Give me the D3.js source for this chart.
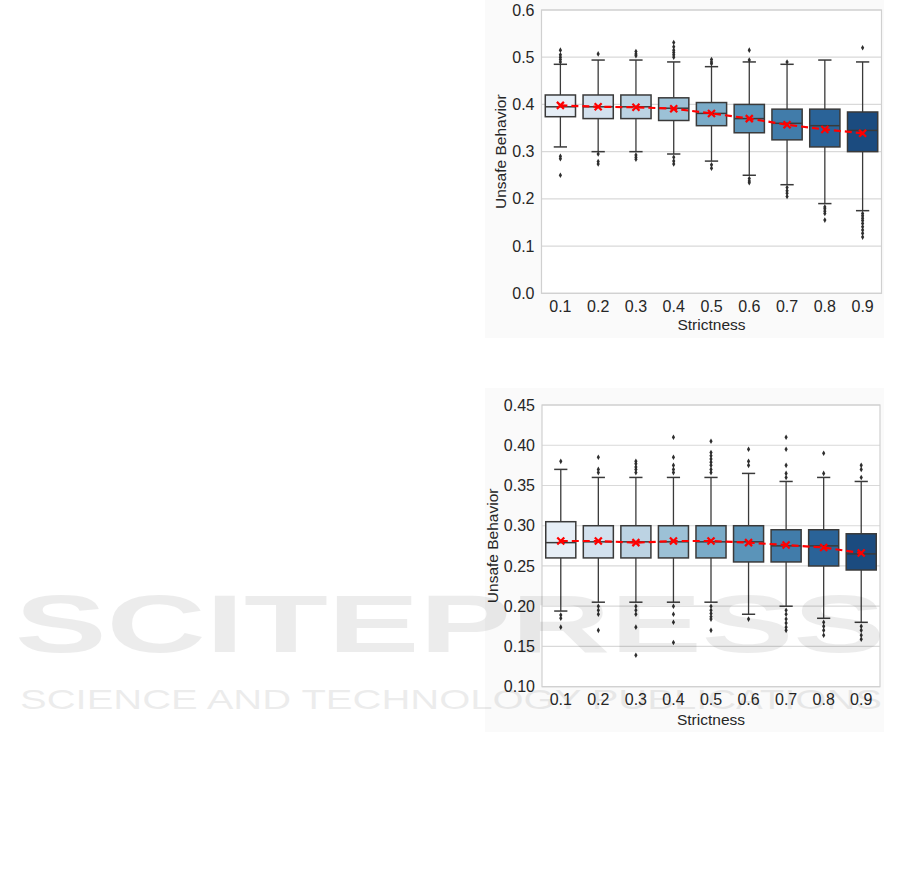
<!DOCTYPE html>
<html>
<head>
<meta charset="utf-8">
<script src="https://cdn.jsdelivr.net/npm/d3@7/dist/d3.min.js"></script>
<style>
  html, body { margin: 0; padding: 0; background: #ffffff; }
  svg { display: block; }
  text { font-family: "Liberation Sans", Arial, sans-serif; }
</style>
</head>
<body>
<svg id="chart" width="901" height="883"></svg>
<script>
// ---------- data ----------
const categories = ["0.1","0.2","0.3","0.4","0.5","0.6","0.7","0.8","0.9"];

// Panel 1 (top)
const topQ1          = [0.374,0.370,0.370,0.366,0.355,0.340,0.325,0.310,0.300];
const topMedian      = [0.395,0.395,0.395,0.392,0.381,0.370,0.360,0.355,0.345];
const topQ3          = [0.420,0.420,0.420,0.414,0.404,0.400,0.390,0.390,0.384];
const topWhiskerLow  = [0.310,0.300,0.300,0.295,0.280,0.250,0.230,0.190,0.175];
const topWhiskerHigh = [0.485,0.494,0.494,0.490,0.480,0.490,0.485,0.494,0.490];
const topMean        = [0.398,0.395,0.394,0.391,0.381,0.370,0.357,0.347,0.339];
const topOutliers = [
  [0.515,0.505,0.500,0.495,0.490,0.290,0.285,0.250],
  [0.507,0.295,0.279,0.274],
  [0.512,0.507,0.503,0.293,0.288,0.284],
  [0.531,0.522,0.515,0.510,0.505,0.500,0.288,0.280,0.274],
  [0.495,0.490,0.486,0.272,0.265],
  [0.515,0.494,0.243,0.238,0.234],
  [0.490,0.224,0.217,0.212,0.205],
  [0.183,0.179,0.174,0.169,0.155],
  [0.520,0.169,0.164,0.159,0.154,0.148,0.141,0.134,0.127,0.119]
];
const topTicks = [0.0,0.1,0.2,0.3,0.4,0.5,0.6];

// Panel 2 (bottom)
const botQ1          = [0.260,0.260,0.260,0.260,0.260,0.255,0.255,0.250,0.245];
const botMedian      = [0.279,0.280,0.280,0.280,0.280,0.280,0.275,0.275,0.265];
const botQ3          = [0.305,0.300,0.300,0.300,0.300,0.300,0.295,0.295,0.290];
const botWhiskerLow  = [0.194,0.205,0.205,0.205,0.205,0.190,0.200,0.185,0.180];
const botWhiskerHigh = [0.370,0.360,0.360,0.360,0.360,0.365,0.355,0.360,0.355];
const botMean        = [0.281,0.281,0.279,0.281,0.281,0.279,0.276,0.273,0.266];
const botOutliers = [
  [0.380,0.189,0.185,0.174],
  [0.385,0.370,0.366,0.200,0.195,0.190,0.170],
  [0.380,0.377,0.373,0.370,0.366,0.200,0.195,0.190,0.174,0.139],
  [0.410,0.385,0.375,0.370,0.366,0.200,0.190,0.180,0.155],
  [0.405,0.391,0.387,0.383,0.379,0.375,0.370,0.366,0.200,0.195,0.191,0.187,0.184,0.170],
  [0.395,0.380,0.375,0.184],
  [0.410,0.395,0.375,0.365,0.360,0.195,0.190,0.184,0.179,0.174,0.170],
  [0.390,0.365,0.180,0.175,0.170,0.164],
  [0.375,0.370,0.360,0.175,0.170,0.164,0.159]
];
const botTicks = [0.10,0.15,0.20,0.25,0.30,0.35,0.40,0.45];

const xTitle = "Strictness";
const yTitle = "Unsafe Behavior";

// ---------- drawing ----------
const svg = d3.select("#chart");
const textColor = "#262626";
const edgeColor = "#3a3a3a";

// seaborn-like Blues palette (desaturated)
const palette = categories.map((c, i) => {
  const col = d3.hsl(d3.interpolateRgbBasis(["#f7fbff","#deebf7","#c6dbef","#9ecae1","#6baed6","#4292c6","#2171b5","#08519c","#08306b"])((i + 1) / 10));
  col.s *= 0.75;
  return col.formatHex();
});

function drawPanel(cfg) {
  const g = svg.append("g");
  g.append("rect").attr("x", cfg.bg[0]).attr("y", cfg.bg[1])
    .attr("width", cfg.bg[2]).attr("height", cfg.bg[3]).attr("fill", "#fafafa");

  const x = d3.scaleBand().domain(categories).range([cfg.x0, cfg.x1]).padding(0);
  const y = d3.scaleLinear().domain(cfg.domain).range([cfg.y1, cfg.y0]);

  g.append("rect").attr("x", cfg.x0).attr("y", cfg.y0)
    .attr("width", cfg.x1 - cfg.x0).attr("height", cfg.y1 - cfg.y0)
    .attr("fill", "#ffffff");

  g.append("g").selectAll("line").data(cfg.ticks).join("line")
    .attr("x1", cfg.x0).attr("x2", cfg.x1)
    .attr("y1", d => y(d)).attr("y2", d => y(d))
    .attr("stroke", "#d9d9d9").attr("stroke-width", 1.2);

  g.append("rect").attr("x", cfg.x0).attr("y", cfg.y0)
    .attr("width", cfg.x1 - cfg.x0).attr("height", cfg.y1 - cfg.y0)
    .attr("fill", "none").attr("stroke", "#d0d0d0").attr("stroke-width", 1.2);

  const yAxis = d3.axisLeft(y).tickValues(cfg.ticks).tickFormat(d3.format(cfg.fmt)).tickSize(0).tickPadding(7);
  const ya = g.append("g").attr("transform", `translate(${cfg.x0},0)`).call(yAxis);
  ya.select(".domain").remove();
  ya.selectAll("text").attr("font-size", 16).attr("fill", textColor)
    .attr("font-family", "Liberation Sans, Arial, sans-serif");

  const xAxis = d3.axisBottom(x).tickSize(0).tickPadding(7);
  const xa = g.append("g").attr("transform", `translate(0,${cfg.y1})`).call(xAxis);
  xa.select(".domain").remove();
  xa.selectAll("text").attr("font-size", 16).attr("fill", textColor)
    .attr("font-family", "Liberation Sans, Arial, sans-serif");

  g.append("text").attr("x", (cfg.x0 + cfg.x1) / 2).attr("y", cfg.y1 + cfg.xTitleOff)
    .attr("text-anchor", "middle").attr("font-size", 15.5).attr("fill", textColor).text(xTitle);
  g.append("text")
    .attr("transform", `translate(${cfg.x0 - cfg.yTitleOff},${(cfg.y0 + cfg.y1) / 2}) rotate(-90)`)
    .attr("text-anchor", "middle").attr("dy", "0.35em")
    .attr("font-size", 15.5).attr("fill", textColor).text(yTitle);

  const bw = x.bandwidth() * 0.8;
  const cx = c => x(c) + x.bandwidth() / 2;
  const boxes = g.append("g");
  categories.forEach((c, i) => {
    const b = boxes.append("g");
    b.append("line").attr("x1", cx(c)).attr("x2", cx(c))
      .attr("y1", y(cfg.q3[i])).attr("y2", y(cfg.wHigh[i]))
      .attr("stroke", edgeColor).attr("stroke-width", 1.3);
    b.append("line").attr("x1", cx(c)).attr("x2", cx(c))
      .attr("y1", y(cfg.q1[i])).attr("y2", y(cfg.wLow[i]))
      .attr("stroke", edgeColor).attr("stroke-width", 1.3);
    [cfg.wHigh[i], cfg.wLow[i]].forEach(v => {
      b.append("line").attr("x1", cx(c) - bw * 0.22).attr("x2", cx(c) + bw * 0.22)
        .attr("y1", y(v)).attr("y2", y(v))
        .attr("stroke", edgeColor).attr("stroke-width", 1.5);
    });
    b.append("rect").attr("x", cx(c) - bw / 2).attr("y", y(cfg.q3[i]))
      .attr("width", bw).attr("height", y(cfg.q1[i]) - y(cfg.q3[i]))
      .attr("fill", palette[i]).attr("stroke", edgeColor).attr("stroke-width", 1.5);
    b.append("line").attr("x1", cx(c) - bw / 2).attr("x2", cx(c) + bw / 2)
      .attr("y1", y(cfg.median[i])).attr("y2", y(cfg.median[i]))
      .attr("stroke", edgeColor).attr("stroke-width", 1.5);
    b.selectAll("path.fl").data(cfg.outliers[i]).join("path")
      .attr("class", "fl")
      .attr("d", d3.symbol(d3.symbolDiamond).size(9))
      .attr("transform", d => `translate(${cx(c)},${y(d)})`)
      .attr("fill", "#2e2e2e");
  });

  const line = d3.line().x((d, i) => cx(categories[i])).y(d => y(d));
  g.append("path").datum(cfg.mean).attr("d", line)
    .attr("fill", "none").attr("stroke", "#ff0000").attr("stroke-width", 2.2)
    .attr("stroke-dasharray", "7,4");
  const s = 3.5;
  g.append("g").selectAll("path").data(cfg.mean).join("path")
    .attr("d", (d, i) => {
      const px = cx(categories[i]), py = y(d);
      return `M${px - s},${py - s}L${px + s},${py + s}M${px - s},${py + s}L${px + s},${py - s}`;
    })
    .attr("stroke", "#ff0000").attr("stroke-width", 2.2).attr("fill", "none");
}

drawPanel({
  bg: [485, 0, 399, 338],
  x0: 541.5, x1: 881.5, y0: 10, y1: 293.3,
  domain: [0, 0.6], ticks: topTicks, fmt: ".1f",
  q1: topQ1, median: topMedian, q3: topQ3, wLow: topWhiskerLow, wHigh: topWhiskerHigh,
  mean: topMean, outliers: topOutliers,
  xTitleOff: 37, yTitleOff: 41
});

drawPanel({
  bg: [485, 388, 399, 344],
  x0: 542, x1: 880, y0: 405, y1: 686.7,
  domain: [0.10, 0.45], ticks: botTicks, fmt: ".2f",
  q1: botQ1, median: botMedian, q3: botQ3, wLow: botWhiskerLow, wHigh: botWhiskerHigh,
  mean: botMean, outliers: botOutliers,
  xTitleOff: 38, yTitleOff: 49
});

// faint publisher watermark over the page
const wm = svg.append("g").attr("pointer-events", "none").attr("fill", "#000").attr("opacity", 0.07);
wm.append("text").attr("x", 15).attr("y", 652)
  .attr("font-family", "DejaVu Sans, sans-serif").attr("font-weight", "bold")
  .attr("font-size", 82).attr("textLength", 870).attr("lengthAdjust", "spacingAndGlyphs")
  .text("SCITEPRESS");
wm.append("text").attr("x", 20).attr("y", 709)
  .attr("font-family", "DejaVu Sans, sans-serif")
  .attr("font-size", 28).attr("textLength", 862).attr("lengthAdjust", "spacingAndGlyphs")
  .text("SCIENCE AND TECHNOLOGY PUBLICATIONS");
</script>
</body>
</html>
